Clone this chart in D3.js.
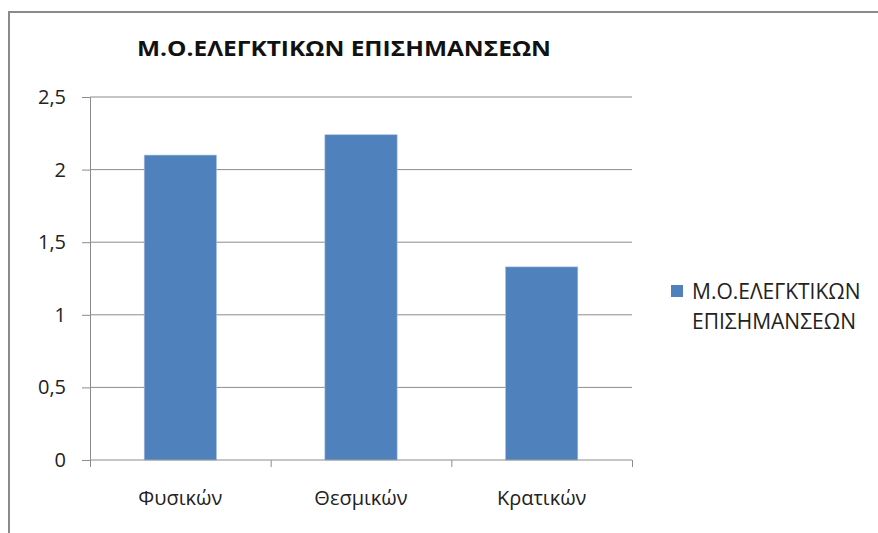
<!DOCTYPE html>
<html lang="el">
  <head>
    <meta charset="UTF-8" />
    <title>Μ.Ο.ΕΛΕΓΚΤΙΚΩΝ ΕΠΙΣΗΜΑΝΣΕΩΝ</title>
    <style>
      body { margin: 0; background: #fff; }
      svg { display: block; font-family: 'Open Sans', 'DejaVu Sans', sans-serif; }
    </style>
  </head>
  <body>
    <script src="https://cdn.jsdelivr.net/npm/d3@7"></script>
    <script>
      // data
      const categories = ['Φυσικών', 'Θεσμικών', 'Κρατικών'];
      const values = [2.1, 2.24, 1.33];
      const yTicks = [0, 0.5, 1, 1.5, 2, 2.5];
      const seriesName = 'Μ.Ο.ΕΛΕΓΚΤΙΚΩΝ ΕΠΙΣΗΜΑΝΣΕΩΝ';
      const legendLines = ['Μ.Ο.ΕΛΕΓΚΤΙΚΩΝ', 'ΕΠΙΣΗΜΑΝΣΕΩΝ'];

      const width = 878;
      const height = 533;
      const margin = { top: 97, left: 90, right: 246, bottom: 73 };
      const innerWidth = width - margin.left - margin.right;
      const innerHeight = height - margin.top - margin.bottom;
      const barColor = '#4f81bd';
      const gridColor = '#8c8c8c';
      const textColor = '#222';

      const svg = d3.select('body').append('svg')
        .attr('width', width)
        .attr('height', height);

      // outer frame, runs off the right and bottom edges
      svg.append('path')
        .attr('d', `M${width},12H9V${height}`)
        .attr('fill', 'none')
        .attr('stroke', '#8a8a8a')
        .attr('stroke-width', 2);

      svg.append('text')
        .text(seriesName)
        .attr('x', 344)
        .attr('y', 56)
        .attr('text-anchor', 'middle')
        .attr('font-weight', 'bold')
        .attr('font-size', 22)
        .attr('textLength', 414)
        .attr('lengthAdjust', 'spacingAndGlyphs')
        .attr('fill', '#111');

      const g = svg.append('g')
        .attr('transform', `translate(${margin.left},${margin.top})`);

      const x = d3.scaleBand()
        .domain(categories)
        .range([0, innerWidth])
        .paddingInner(0.6)
        .paddingOuter(0.3);

      const xTicks = d3.scaleLinear().domain([0, categories.length]).range([0, innerWidth]);

      const y = d3.scaleLinear()
        .domain([0, 2.5])
        .range([innerHeight, 0]);

      // gridlines
      g.append('g')
        .selectAll('line')
        .data(yTicks.slice(1))
        .join('line')
        .attr('x1', 0).attr('x2', innerWidth)
        .attr('y1', d => y(d)).attr('y2', d => y(d))
        .attr('stroke', gridColor)
        .attr('stroke-width', 1);

      // bars
      g.selectAll('rect.bar')
        .data(values)
        .join('rect')
        .attr('class', 'bar')
        .attr('x', (d, i) => x(categories[i]))
        .attr('y', d => y(d))
        .attr('width', x.bandwidth())
        .attr('height', d => innerHeight - y(d))
        .attr('fill', barColor)
        .attr('stroke', '#a7c0de')
        .attr('stroke-width', 0.6);

      // y axis
      const yAxis = g.append('g')
        .call(d3.axisLeft(y)
          .tickValues(yTicks)
          .tickSize(8)
          .tickPadding(16)
          .tickFormat(d => String(d).replace('.', ',')));
      yAxis.attr('font-family', null).attr('font-size', 20);
      yAxis.selectAll('line, path').attr('stroke', gridColor);
      yAxis.selectAll('text').attr('fill', textColor);

      // x axis with ticks on category boundaries
      const xAxis = g.append('g')
        .attr('transform', `translate(0,${innerHeight})`)
        .call(d3.axisBottom(xTicks)
          .tickValues(d3.range(categories.length + 1))
          .tickSize(7));
      xAxis.selectAll('line, path').attr('stroke', gridColor);
      xAxis.selectAll('text').remove();
      xAxis.select('.domain').attr('d', `M0,0H${innerWidth}`);

      g.append('g')
        .selectAll('text')
        .data(categories)
        .join('text')
        .text(d => d)
        .attr('x', d => x(d) + x.bandwidth() / 2)
        .attr('y', innerHeight + 45)
        .attr('text-anchor', 'middle')
        .attr('font-size', 20)
        .attr('fill', textColor);

      // legend
      const legend = svg.append('g').attr('transform', 'translate(671,285)');
      legend.append('rect')
        .attr('width', 12).attr('height', 12)
        .attr('fill', barColor);
      legend.selectAll('text')
        .data(legendLines)
        .join('text')
        .text(d => d)
        .attr('x', 21)
        .attr('y', (d, i) => 14 + i * 30)
        .attr('font-size', 21)
        .attr('fill', textColor);
    </script>
  </body>
</html>
